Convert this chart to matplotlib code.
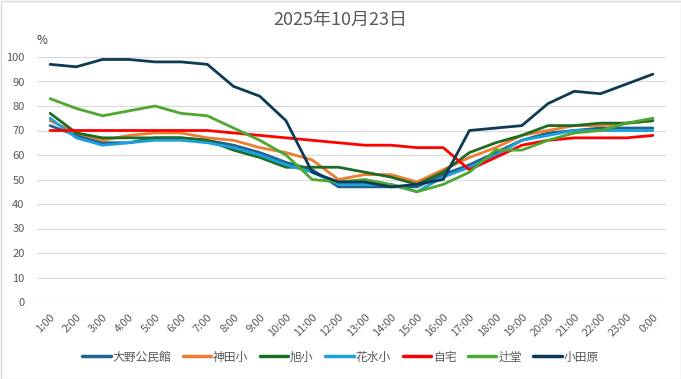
import matplotlib
matplotlib.use("Agg")
import matplotlib.pyplot as plt
from matplotlib.patches import Rectangle

plt.rcParams['font.family'] = ['Noto Sans CJK JP', 'DejaVu Sans']

hours = ["1:00", "2:00", "3:00", "4:00", "5:00", "6:00", "7:00", "8:00", "9:00", "10:00",
         "11:00", "12:00", "13:00", "14:00", "15:00", "16:00", "17:00", "18:00", "19:00",
         "20:00", "21:00", "22:00", "23:00", "0:00"]

ono = [72, 68, 65, 65, 67, 67, 66, 64, 61, 57, 54, 47, 47, 47, 47, 52, 56, 61, 66, 69, 70, 71, 71, 71]
kanda = [74, 69, 66, 68, 69, 69, 67, 66, 63, 61, 58, 50, 52, 52, 49, 54, 59, 63, 68, 70, 72, 72, 73, 74]
asahi = [77, 69, 67, 67, 67, 67, 66, 62, 59, 55, 55, 55, 53, 51, 48, 53, 61, 65, 68, 72, 72, 73, 73, 74]
hanamizu = [75, 67, 64, 65, 66, 66, 65, 63, 60, 56, 53, 48, 48, 48, 45, 51, 55, 60, 66, 68, 70, 70, 70, 70]
jitaku = [70, 70, 70, 70, 70, 70, 70, 69, 68, 67, 66, 65, 64, 64, 63, 63, 54, 59, 64, 66, 67, 67, 67, 68]
tsujido = [83, 79, 76, 78, 80, 77, 76, 71, 66, 60, 50, 49, 50, 48, 45, 48, 53, 62, 62, 66, 69, 70, 73, 75]
odawara = [97, 96, 99, 99, 98, 98, 97, 88, 84, 74, 53, 49, 49, 47, 48, 50, 70, 71, 72, 81, 86, 85, 89, 93]

names = ["大野公民館", "神田小", "旭小", "花水小", "自宅", "辻堂", "小田原"]
series = [ono, kanda, asahi, hanamizu, jitaku, tsujido, odawara]
colors = ["#1F638F", "#ED7D31", "#1E6B23", "#1AA0DB", "#FF0000", "#4EA72E", "#0F3A55"]

fig = plt.figure(figsize=(6.81, 3.79), dpi=100)
ax = fig.add_axes([37/681, 1 - 302/379, (666 - 37)/681, (302 - 57)/379])

x = list(range(len(hours)))
for name, vals, c in zip(names, series, colors):
    ax.plot(x, vals, color=c, lw=2.0, label=name, solid_capstyle='round', solid_joinstyle='round')

ax.set_xlim(-0.5, len(hours) - 0.5)
ax.set_ylim(0, 100)
ax.set_yticks(range(0, 101, 10))
ax.set_xticks(x)
ax.set_xticklabels(hours, rotation=45, ha='right', rotation_mode='anchor')
ax.tick_params(axis='both', length=0, labelsize=8, colors='#595959', pad=7)
ax.tick_params(axis='y', pad=9)
ax.grid(axis='y', color='#D9D9D9', lw=0.8)
ax.set_axisbelow(True)
for s in ax.spines.values():
    s.set_visible(False)

fig.text(0.5, 1 - 20/379, "2025年10月23日", ha='center', va='center', fontsize=13, color='#595959')
fig.text(42/681, 1 - 40/379, "%", ha='center', va='center', fontsize=8.5, color='#404040')

leg = fig.legend(loc='center', bbox_to_anchor=(0.5, 1 - 357/379), ncol=7, frameon=False,
                 fontsize=8.5, handlelength=2.4, handletextpad=0.15, columnspacing=1.0)
for t in leg.get_texts():
    t.set_color('#595959')
for l in leg.get_lines():
    l.set_linewidth(2.5)

fig.add_artist(Rectangle((0.5/681, 0.5/379), 1 - 1/681, 1 - 1/379, transform=fig.transFigure,
                         fill=False, edgecolor='#D9D9D9', lw=1))

fig.savefig("out.png", dpi=100)
